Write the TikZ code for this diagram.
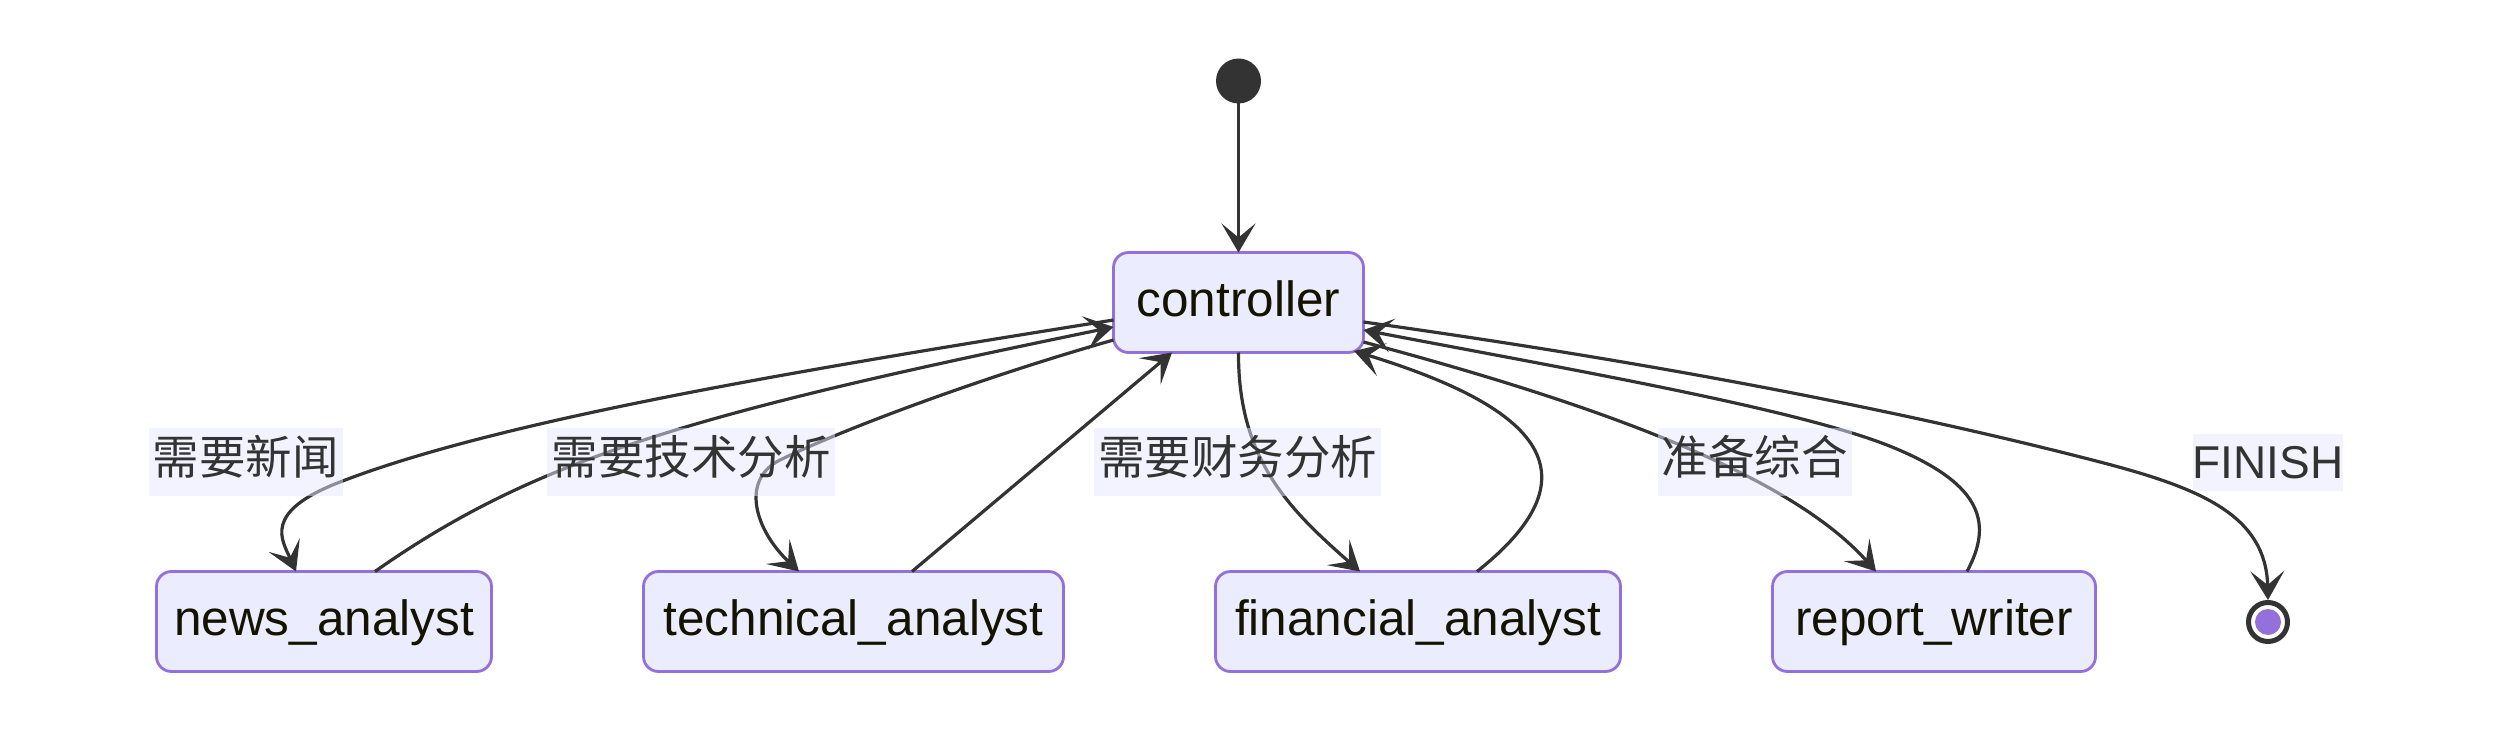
\documentclass[tikz,border=0pt]{standalone}
\usepackage{fontspec}
\setmainfont{Liberation Sans}
\newfontfamily\cjk{Noto Sans CJK SC}
\usetikzlibrary{arrows.meta}
\definecolor{edgec}{HTML}{333333}
\definecolor{boxfill}{HTML}{ECECFF}
\definecolor{boxline}{HTML}{9370DB}
\definecolor{txt}{HTML}{131300}
\definecolor{lblbg}{HTML}{E8E8FF}
\begin{document}
\begin{tikzpicture}[x=1pt,y=-1pt,
  state/.style={rectangle, rounded corners=15pt, draw=boxline, fill=boxfill, line width=2.8pt,
    minimum height=100pt, inner sep=0pt, outer sep=0pt, text=txt,
    font=\fontsize{49.5}{56}\selectfont, text height=34pt, text depth=5.6pt},
  tr/.style={draw=edgec, line width=3.2pt, -{Stealth[length=29pt,width=34pt,inset=14pt]}},
  lbl/.style={fill=lblbg, fill opacity=0.5, text opacity=1, text=edgec, inner xsep=4pt,
    inner ysep=0pt, text height=46pt, text depth=22pt, font=\cjk\fontsize{46.5}{54}\selectfont},
]
\useasboundingbox (0,0) rectangle (2493,733);
\fill[white] (0,0) rectangle (2493,733);

% states
\node[circle, fill=edgec, minimum size=45pt, inner sep=0pt, outer sep=0pt] (start) at (1238.5,81) {};
\node[state, minimum width=250pt] (ctrl) at (1238.5,302.5) {controller};
\node[state, minimum width=335pt] (news) at (324,621.5) {news\_analyst};
\node[state, minimum width=420pt] (tech) at (853.5,621.5) {technical\_analyst};
\node[state, minimum width=405pt] (fin) at (1418,621.5) {financial\_analyst};
\node[state, minimum width=323pt] (rep) at (1934,621.5) {report\_writer};
\node[circle, draw=edgec, line width=5pt, fill=white, minimum size=39pt, inner sep=0pt] (end) at (2268,622) {};
\node[circle, fill=boxline, minimum size=26pt, inner sep=0pt] (endin) at (end.center) {};

% transitions
\draw[tr] (start.south) -- (ctrl.north);
\draw[tr] ([yshift=-17.5pt]ctrl.west) .. controls (800,370) and (500,420) .. (340,482)
  .. controls (262,512) and (282,540) .. ([xshift=-28pt]news.north);
\draw[tr] ([xshift=51pt]news.north) .. controls (535,459) and (690,414) .. ([yshift=-24.5pt]ctrl.west);
\draw[tr] ([yshift=-37.5pt]ctrl.west) .. controls (990,375) and (850,426) .. (780,460)
  .. controls (740,480) and (755,530) .. ([xshift=-54.5pt]tech.north);
\draw[tr] ([xshift=58.5pt]tech.north) -- ([xshift=-66.5pt]ctrl.south);
\draw[tr] (ctrl.south) .. controls (1238,460) and (1290,510) .. ([xshift=-58pt]fin.north);
\draw[tr] ([xshift=59pt]fin.north) .. controls (1605,470) and (1530,405) .. ([xshift=115.5pt,yshift=1.5pt]ctrl.south);
\draw[tr] ([yshift=-39.5pt]ctrl.east) .. controls (1600,405) and (1790,475) .. ([xshift=-58pt]rep.north);
\draw[tr] ([xshift=33pt]rep.north) .. controls (1992,525) and (1985,485) .. (1892,447)
  .. controls (1799,409) and (1567,369) .. ([yshift=-27.5pt]ctrl.east);
\draw[tr] ([yshift=-19.5pt]ctrl.east) .. controls (1650,362) and (1900,410) .. (2100,462)
  .. controls (2200,488) and (2266,515) .. (end.north);

% labels
\node[lbl, minimum width=191pt] (l1) at (245.5,462) {需要新闻};
\node[lbl, minimum width=288pt] (l2) at (691,462) {需要技术分析};
\node[lbl, minimum width=287pt] (l3) at (1237.5,462) {需要财务分析};
\node[lbl, minimum width=191pt] (l4) at (1754.5,462) {准备综合};
\node[lbl, font=\fontsize{46}{54}\selectfont, text height=44pt, text depth=13pt, inner xsep=0pt] (l5) at (2268,462.5) {FINISH};
\end{tikzpicture}
\end{document}
